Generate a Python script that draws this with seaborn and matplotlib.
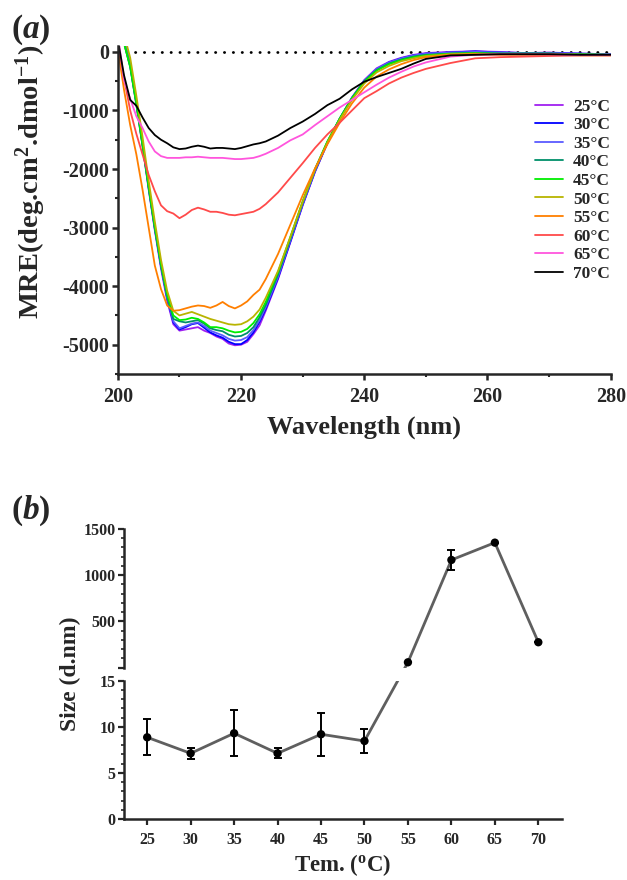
import numpy as np
import pandas as pd
import seaborn as sns
import matplotlib.pyplot as plt
from matplotlib.ticker import MultipleLocator

# ---- panel (a): CD spectra ----
wavelength = [200, 201, 202, 203, 204, 205, 206, 207, 208, 209, 210, 211, 212, 213, 214, 215,
              216, 217, 218, 219, 220, 221, 222, 223, 224, 226, 228, 230, 232, 234, 236, 238,
              240, 242, 244, 246, 248, 250, 254, 258, 262, 266, 270, 275, 280]

mre_25 = [400, 150, -250, -900, -1600, -2350, -3050, -3700, -4250, -4650, -4760, -4740, -4720, -4700, -4760,
          -4800, -4860, -4900, -4980, -5010, -5000, -4950, -4820, -4670, -4420, -3880, -3250, -2620, -2050,
          -1560, -1150, -780, -480, -280, -170, -100, -50, -20, 0, 10, 0, -20, -10, -30, -40]
mre_30 = [450, 200, -200, -850, -1550, -2300, -3000, -3650, -4200, -4620, -4740, -4700, -4650, -4630, -4710,
          -4790, -4840, -4880, -4950, -4990, -4990, -4920, -4790, -4610, -4390, -3860, -3240, -2610, -2040,
          -1560, -1150, -790, -500, -300, -180, -110, -60, -30, -10, 10, -10, -20, -20, -30, -40]
mre_35 = [450, 200, -220, -870, -1570, -2320, -3020, -3660, -4200, -4600, -4720, -4680, -4640, -4620, -4680,
          -4760, -4800, -4840, -4900, -4930, -4920, -4870, -4750, -4580, -4360, -3840, -3220, -2600, -2030,
          -1550, -1140, -780, -490, -290, -180, -110, -60, -30, -10, 0, -10, -20, -20, -30, -40]
mre_40 = [400, 150, -260, -900, -1600, -2330, -3020, -3650, -4180, -4560, -4600, -4620, -4600, -4580, -4640,
          -4720, -4750, -4770, -4830, -4860, -4850, -4800, -4700, -4530, -4320, -3800, -3190, -2570, -2010,
          -1540, -1140, -790, -500, -310, -200, -130, -80, -50, -30, -20, -30, -30, -30, -40, -50]
mre_45 = [400, 150, -250, -880, -1580, -2300, -2990, -3620, -4150, -4500, -4580, -4570, -4540, -4560, -4620,
          -4700, -4700, -4720, -4760, -4790, -4780, -4730, -4630, -4480, -4270, -3760, -3160, -2550, -2000,
          -1530, -1140, -790, -510, -320, -210, -140, -90, -60, -30, -20, -30, -30, -30, -40, -50]
mre_50 = [500, 300, -100, -750, -1450, -2200, -2900, -3550, -4080, -4420, -4500, -4470, -4440, -4480, -4520,
          -4560, -4590, -4620, -4650, -4660, -4650, -4600, -4520, -4400, -4200, -3740, -3160, -2560, -2010,
          -1550, -1160, -820, -540, -350, -240, -160, -110, -70, -40, -30, -40, -40, -40, -50, -50]
mre_55 = [50, -650, -1250, -1750, -2350, -3000, -3650, -4050, -4330, -4420, -4410, -4380, -4350, -4330, -4340,
          -4370, -4330, -4270, -4340, -4380, -4330, -4260, -4150, -4060, -3880, -3450, -2950, -2450, -1990,
          -1580, -1210, -880, -610, -420, -300, -210, -140, -90, -50, -40, -50, -50, -50, -60, -60]
mre_60 = [150, -450, -1000, -1400, -1750, -2100, -2380, -2620, -2720, -2760, -2840, -2780, -2700, -2660, -2690,
          -2730, -2730, -2750, -2780, -2790, -2770, -2750, -2730, -2680, -2600, -2400, -2150, -1900, -1640,
          -1410, -1210, -1000, -790, -670, -540, -440, -360, -290, -190, -110, -90, -80, -70, -60, -60]
mre_65 = [300, -480, -800, -1100, -1300, -1530, -1700, -1780, -1810, -1810, -1810, -1800, -1800, -1790, -1800,
          -1810, -1810, -1810, -1820, -1830, -1830, -1820, -1810, -1780, -1740, -1640, -1510, -1410, -1250,
          -1100, -950, -820, -690, -560, -440, -340, -250, -180, -80, -50, -40, -40, -40, -50, -50]
mre_70 = [200, -400, -820, -920, -1120, -1300, -1420, -1500, -1560, -1630, -1660, -1650, -1620, -1600, -1620,
          -1650, -1640, -1640, -1650, -1660, -1640, -1610, -1580, -1560, -1530, -1430, -1300, -1190, -1060,
          -910, -800, -640, -510, -430, -360, -290, -200, -120, -60, -50, -40, -40, -40, -50, -50]

temp_labels = ["25°C", "30°C", "35°C", "40°C", "45°C", "50°C", "55°C", "60°C", "65°C", "70°C"]
spectra = [mre_25, mre_30, mre_35, mre_40, mre_45, mre_50, mre_55, mre_60, mre_65, mre_70]
line_colors = ["#a020f0", "#0000ff", "#5a5aff", "#00906a", "#00ee00", "#b8b400",
               "#ff7f00", "#ff4a4a", "#ff55dd", "#000000"]

# ---- panel (b): particle size ----
size_temp = [25, 30, 35, 40, 45, 50, 55, 60, 65, 70]
size_mean = [8.86, 7.12, 9.3, 7.12, 9.19, 8.46, 58, 1165, 1352, 275]
size_err = [1.95, 0.6, 2.5, 0.55, 2.35, 1.3, 0, 108, 0, 0]

sns.set_theme(style="ticks")
plt.rcParams["font.family"] = ["Liberation Serif", "DejaVu Serif"]
plt.rcParams["font.weight"] = "bold"
plt.rcParams["axes.labelweight"] = "bold"
plt.rcParams["axes.unicode_minus"] = False
plt.rcParams["mathtext.fontset"] = "custom"
plt.rcParams["mathtext.rm"] = "Liberation Serif:bold"
plt.rcParams["mathtext.it"] = "Liberation Serif:italic:bold"
plt.rcParams["mathtext.bf"] = "Liberation Serif:bold"

fig = plt.figure(figsize=(6.27, 8.8), dpi=100)

ax = fig.add_axes([0.188, 0.575, 0.786, 0.3727])
df = pd.DataFrame({
    "wl": np.tile(wavelength, len(spectra)),
    "mre": np.concatenate(spectra),
    "temp": np.repeat(temp_labels, len(wavelength)),
})
ax.axhline(0, xmin=0.035, color="black", ls=(0, (0.1, 3.1)), lw=2, dash_capstyle="round", zorder=0)
sns.lineplot(data=df, x="wl", y="mre", hue="temp", palette=line_colors, lw=1.3, ax=ax)
ax.set_xlim(200, 280)
ax.set_ylim(-5500, 100)
ax.xaxis.set_major_locator(MultipleLocator(20))
ax.xaxis.set_minor_locator(MultipleLocator(10))
ax.yaxis.set_minor_locator(MultipleLocator(500))
ax.set_yticks([0, -1000, -2000, -3000, -4000, -5000])
ax.set_xlabel("Wavelength (nm)", fontsize=19, labelpad=6)
ax.set_ylabel(r"MRE(deg.cm$^{\mathrm{2}}$.dmol$^{\mathrm{-1}}$)", fontsize=20.5)
ax.yaxis.set_label_coords(-0.142, 0.585)
ax.legend(frameon=False, loc="upper left", bbox_to_anchor=(0.846, 0.84), borderaxespad=0,
          borderpad=0, handlelength=1.6, handletextpad=0.6, labelspacing=0.14,
          prop={"family": "Liberation Serif", "weight": "bold", "size": 12.5})
sns.despine(ax=ax)
for s in ["left", "bottom"]:
    ax.spines[s].set_linewidth(1.8)
ax.tick_params(which="major", width=1.8, length=4.5, labelsize=14.5, pad=2)
ax.tick_params(which="minor", width=1.5, length=2.5)
ax.tick_params(axis="x", which="major", pad=5)

# broken-axis size plot
left, width = 0.198, 0.698
ax_hi = fig.add_axes([left, 0.2413, width, 0.1576])
ax_lo = fig.add_axes([left, 0.0693, width, 0.1572])
for a in (ax_hi, ax_lo):
    a.set_xlim(22.35, 72.7)
ax_hi.set_ylim(0, 1500)
ax_lo.set_ylim(0, 15)

lo = slice(0, 6)
hi = slice(6, 10)
grey = "#5f5f5f"
sns.lineplot(x=size_temp[lo], y=size_mean[lo], color=grey, lw=2, ax=ax_lo, zorder=2)
sns.lineplot(x=size_temp[hi], y=size_mean[hi], color=grey, lw=2, ax=ax_hi, zorder=2)

# connect 50 -> 55 across the break, straight in display space
p_lo = ax_lo.transData.transform((size_temp[5], size_mean[5]))
p_hi = ax_hi.transData.transform((size_temp[6], size_mean[6]))
hi_in_lo = ax_lo.transData.inverted().transform(p_hi)
lo_in_hi = ax_hi.transData.inverted().transform(p_lo)
ax_lo.plot([size_temp[5], hi_in_lo[0]], [size_mean[5], hi_in_lo[1]], color=grey, lw=2, zorder=2)
ax_hi.plot([lo_in_hi[0], size_temp[6]], [lo_in_hi[1], size_mean[6]], color=grey, lw=2, zorder=2)

for a, sl in ((ax_lo, lo), (ax_hi, hi)):
    a.errorbar(size_temp[sl], size_mean[sl], yerr=size_err[sl], fmt="none", ecolor="black",
               elinewidth=1.4, capsize=3, capthick=1.4, zorder=3)
    sns.scatterplot(x=size_temp[sl], y=size_mean[sl], color="black", s=36, edgecolor="none",
                    ax=a, zorder=4)

ax_hi.set_yticks([0, 500, 1000, 1500])
ax_hi.set_yticklabels(["", "500", "1000", "1500"])
ax_hi.yaxis.set_minor_locator(MultipleLocator(100))
ax_hi.set_xticks([])
for s in ["top", "right", "bottom"]:
    ax_hi.spines[s].set_visible(False)
ax_lo.set_yticks([0, 5, 10, 15])
ax_lo.yaxis.set_minor_locator(MultipleLocator(1))
ax_lo.set_xticks(size_temp)
sns.despine(ax=ax_lo)
for a in (ax_hi, ax_lo):
    a.spines["left"].set_linewidth(1.8)
    a.tick_params(which="major", width=1.6, length=4, labelsize=11.5, pad=2)
    a.tick_params(which="minor", width=1.2, length=2)
ax_lo.spines["bottom"].set_linewidth(1.8)
ax_lo.tick_params(axis="x", pad=5)
ax_lo.set_xlabel(r"Tem. ($^{\mathrm{o}}$C)", fontsize=16.5, labelpad=3)
fig.text(0.112, 0.234, "Size (d.nm)", rotation=90, ha="center", va="center", fontsize=17,
         fontweight="bold")

fig.text(0.018, 0.966, r"($\mathit{a}$)", fontsize=24, fontweight="bold", va="center")
fig.text(0.018, 0.42, r"($\mathit{b}$)", fontsize=24, fontweight="bold", va="center")

fig.savefig("out.png", dpi=100)
